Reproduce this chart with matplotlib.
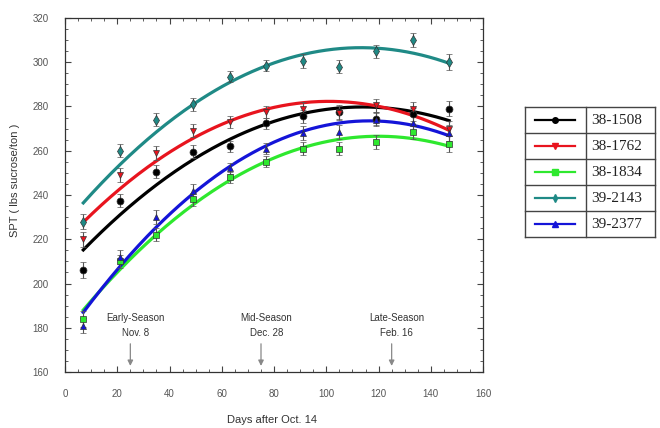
"""SPT (lbs sucrose/ton) over the season for five clones, with quadratic fits."""

import matplotlib
matplotlib.use("Agg")
import matplotlib.pyplot as plt
from matplotlib.ticker import MultipleLocator
import numpy as np

OUT = "out.png"

DAYS = [7, 21, 35, 49, 63, 77, 91, 105, 119, 133, 147]

CLONES = ["38-1508", "38-1762", "38-1834", "39-2143", "39-2377"]
SPT_1508 = [206, 237.5, 250.5, 259.5, 262, 272.5, 275.5, 277.5, 274.5, 276.5, 279]
SPT_1762 = [220, 249, 259, 269, 273, 277.5, 279, 277, 280.5, 279, 270]
SPT_1834 = [184, 210, 222, 238, 248, 255, 261, 261, 264, 268.5, 263]
SPT_2143 = [228, 260, 274, 281, 293.5, 298.5, 300.5, 298, 305, 310, 300]
SPT_2377 = [181, 212, 230, 242, 252, 261, 268, 268.5, 274, 272.5, 268]
SE = [3.5, 3, 3, 3, 2.5, 2.5, 3, 3, 3, 3, 3.5]

SEASONS = [("Early-Season\nNov. 8", 25), ("Mid-Season\nDec. 28", 75),
           ("Late-Season\nFeb. 16", 125)]

COLORS = ["#000000", "#e8141e", "#2ee82e", "#1f8a86", "#1414d8"]
MARKERS = ["o", "v", "s", "d", "^"]


def main() -> None:
    fig = plt.figure(figsize=(6.6, 4.28), dpi=100)
    ax = fig.add_axes([0.0985, 0.1308, 0.6335, 0.8272])

    series = [SPT_1508, SPT_1762, SPT_1834, SPT_2143, SPT_2377]
    days = np.array(DAYS, dtype=float)
    grid = np.linspace(days.min(), days.max(), 200)
    for vals, col, mk in zip(series, COLORS, MARKERS):
        coef = np.polyfit(days, vals, 2)
        ax.plot(grid, np.polyval(coef, grid), color=col, lw=2.3, zorder=2)
        ax.errorbar(days, vals, yerr=SE, fmt=mk, color=col, mec="#333333",
                    mew=0.5, ms=5, ecolor="#555555", elinewidth=0.8,
                    capsize=2, zorder=3)

    for text, d in SEASONS:
        ax.text(d + 2, 181, text, ha="center", va="center", fontsize=7,
                color="#333333", family="Liberation Sans", linespacing=1.6)
        ax.annotate("", xy=(d, 161.5), xytext=(d, 174),
                    arrowprops=dict(arrowstyle="-|>", color="#888888",
                                    lw=0.9, mutation_scale=8))

    ax.set_xlim(0, 160)
    ax.set_ylim(160, 320)
    ax.xaxis.set_major_locator(MultipleLocator(20))
    ax.xaxis.set_minor_locator(MultipleLocator(5))
    ax.yaxis.set_major_locator(MultipleLocator(20))
    ax.yaxis.set_minor_locator(MultipleLocator(5))
    ax.tick_params(which="both", direction="in", top=True, right=True,
                   colors="#444444", labelsize=7, labelcolor="#555555")
    ax.tick_params(which="major", length=4, pad=12)
    ax.tick_params(which="minor", length=2)
    for side in ax.spines.values():
        side.set_color("#333333")
        side.set_linewidth(0.9)
    for lab in ax.get_xticklabels() + ax.get_yticklabels():
        lab.set_family("Liberation Sans")

    fig.text(272 / 660, 1 - 420 / 428, "Days after Oct. 14", ha="center",
             va="center", fontsize=8, color="#333333", family="Liberation Sans")
    fig.text(15 / 660, 1 - 180 / 428, "SPT ( lbs sucrose/ton )", ha="center",
             va="center", rotation=90, fontsize=8, color="#333333",
             family="Liberation Sans")

    # legend drawn as a bordered two-column table
    lg = fig.add_axes([525 / 660, 1 - 237 / 428, 130 / 660, 130 / 428])
    lg.set_xlim(0, 130)
    lg.set_ylim(len(CLONES), 0)
    lg.axis("off")
    for i in range(len(CLONES) + 1):
        lg.plot([0, 130], [i, i], color="#444444", lw=1, clip_on=False)
    for x in (0, 61, 130):
        lg.plot([x, x], [0, len(CLONES)], color="#444444", lw=1, clip_on=False)
    for i, (name, col, mk) in enumerate(zip(CLONES, COLORS, MARKERS)):
        lg.plot([10, 50], [i + 0.5, i + 0.5], color=col, lw=1.6)
        lg.plot([30], [i + 0.5], marker=mk, color=col, ms=4)
        lg.text(66, i + 0.5, name, va="center", ha="left", fontsize=11,
                family="Liberation Serif", color="#222222")

    fig.savefig(OUT, dpi=100)


if __name__ == "__main__":
    main()
